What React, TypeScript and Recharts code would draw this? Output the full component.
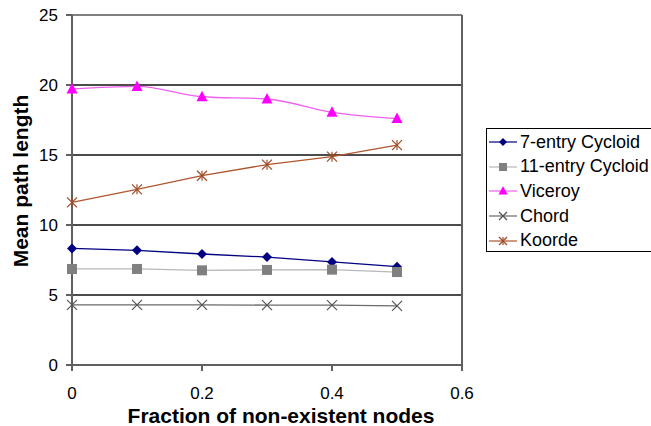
import React from 'react';
import {
  LineChart, Line, XAxis, YAxis, CartesianGrid, ReferenceLine,
} from 'recharts';

// Mean path length vs. fraction of non-existent nodes
const fractions = [0, 0.1, 0.2, 0.3, 0.4, 0.5];
const cycloid7 = [8.33, 8.19, 7.93, 7.71, 7.36, 7.02];
const cycloid11 = [6.86, 6.86, 6.76, 6.79, 6.81, 6.64];
const viceroy = [19.71, 19.9, 19.16, 19.0, 18.05, 17.6];
const chord = [4.3, 4.3, 4.3, 4.28, 4.28, 4.22];
const koorde = [11.62, 12.55, 13.52, 14.31, 14.88, 15.71];

const xTicks = [0, 0.2, 0.4, 0.6];
const yTicks = [0, 5, 10, 15, 20, 25];

const data = fractions.map((f, i) => ({
  f,
  c7: cycloid7[i],
  c11: cycloid11[i],
  vic: viceroy[i],
  chord: chord[i],
  koorde: koorde[i],
}));

const FONT = '"Liberation Sans", Arial, sans-serif';

type Shape = 'diamond' | 'square' | 'triangle' | 'x' | 'star';

const series: { key: string; name: string; line: string; mark: string; shape: Shape; smooth?: boolean }[] = [
  { key: 'c7', name: '7-entry Cycloid', line: '#000080', mark: '#000080', shape: 'diamond' },
  { key: 'c11', name: '11-entry Cycloid', line: '#b8b8b8', mark: '#808080', shape: 'square' },
  { key: 'vic', name: 'Viceroy', line: '#f060f0', mark: '#ff00ff', shape: 'triangle', smooth: true },
  { key: 'chord', name: 'Chord', line: '#6a6a6a', mark: '#555555', shape: 'x' },
  { key: 'koorde', name: 'Koorde', line: '#b0562e', mark: '#a04a28', shape: 'star' },
];

const Marker = ({ cx, cy, shape, color, s = 5 }: { cx: number; cy: number; shape: Shape; color: string; s?: number }) => {
  if (cx == null || cy == null) return null;
  switch (shape) {
    case 'diamond':
      return <polygon points={`${cx},${cy - s} ${cx + s},${cy} ${cx},${cy + s} ${cx - s},${cy}`} fill={color} />;
    case 'square':
      return <rect x={cx - s} y={cy - s} width={s * 2} height={s * 2} fill={color} />;
    case 'triangle':
      return <polygon points={`${cx},${cy - s - 1} ${cx + s + 0.5},${cy + s - 0.5} ${cx - s - 0.5},${cy + s - 0.5}`} fill={color} />;
    case 'x':
      return (
        <g stroke={color} strokeWidth={1.2}>
          <line x1={cx - s} y1={cy - s} x2={cx + s} y2={cy + s} />
          <line x1={cx - s} y1={cy + s} x2={cx + s} y2={cy - s} />
        </g>
      );
    case 'star':
      return (
        <g stroke={color} strokeWidth={1.2}>
          <line x1={cx - s} y1={cy - s} x2={cx + s} y2={cy + s} />
          <line x1={cx - s} y1={cy + s} x2={cx + s} y2={cy - s} />
          <line x1={cx} y1={cy - s} x2={cx} y2={cy + s} />
        </g>
      );
  }
  return null;
};

const LegendBox = () => (
  <div
    style={{
      position: 'absolute',
      left: 486,
      top: 128,
      width: 175,
      height: 124,
      border: '1px solid #000',
      background: '#fff',
      boxSizing: 'border-box',
      paddingTop: 1,
      fontFamily: FONT,
      fontSize: 18,
    }}
  >
    {series.map((s) => (
      <div key={s.key} style={{ display: 'flex', alignItems: 'center', height: 24.6 }}>
        <svg width={32} height={20} style={{ flex: 'none' }}>
          <line x1={2} y1={10} x2={30} y2={10} stroke={s.line} strokeWidth={1.2} />
          <Marker cx={16} cy={10} shape={s.shape} color={s.mark} s={4} />
        </svg>
        <span style={{ whiteSpace: 'nowrap', marginLeft: 1, color: '#000' }}>{s.name}</span>
      </div>
    ))}
  </div>
);

export default function App() {
  return (
    <div style={{ position: 'absolute', left: 0, top: 0, width: 651, height: 426, overflow: 'hidden', background: '#fff' }}>
      <LineChart width={651} height={426} data={data} margin={{ top: 15, right: 189, left: 0, bottom: 0 }}>
        <CartesianGrid horizontal vertical={false} stroke="#111" strokeWidth={1.3} horizontalValues={[5, 10, 15, 20]} />
        <ReferenceLine y={25} stroke="#808080" strokeWidth={2} />
        <ReferenceLine x={0.6} stroke="#606060" strokeWidth={2} />
        <XAxis
          dataKey="f"
          type="number"
          domain={[0, 0.6]}
          ticks={xTicks}
          height={61}
          stroke="#606060"
          strokeWidth={2}
          tickSize={6}
          tickMargin={16}
          tick={{ fill: '#000', fontSize: 17, fontFamily: FONT }}
          label={{
            content: () => (
              <text x={281} y={423} textAnchor="middle" fontFamily={FONT} fontWeight="bold" fontSize={21} fill="#000">
                Fraction of non-existent nodes
              </text>
            ),
          }}
        />
        <YAxis
          type="number"
          domain={[0, 25]}
          ticks={yTicks}
          width={72}
          stroke="#606060"
          strokeWidth={2}
          tickSize={6}
          tickMargin={8}
          tick={{ fill: '#000', fontSize: 17, fontFamily: FONT }}
          label={{
            content: () => (
              <text x={20} y={181} transform="rotate(-90 20 181)" textAnchor="middle" dominantBaseline="central" fontFamily={FONT} fontWeight="bold" fontSize={21} fill="#000">
                Mean path length
              </text>
            ),
          }}
        />
        {series.map((s) => (
          <Line
            key={s.key}
            dataKey={s.key}
            name={s.name}
            type={s.smooth ? 'monotone' : 'linear'}
            stroke={s.line}
            strokeWidth={1.3}
            isAnimationActive={false}
            dot={(p: any) => <Marker key={`${s.key}-${p.index}`} cx={p.cx} cy={p.cy} shape={s.shape} color={s.mark} />}
            activeDot={false}
          />
        ))}
      </LineChart>
      <LegendBox />
    </div>
  );
}
